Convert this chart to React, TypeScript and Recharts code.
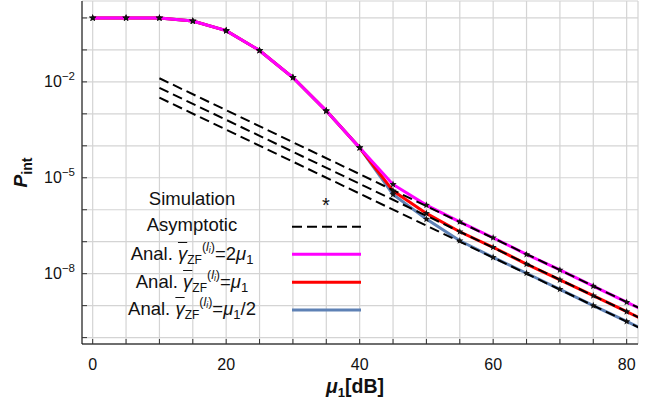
import React from 'react';
import { LineChart, Line, XAxis, YAxis, CartesianGrid, Label } from 'recharts';

const FONT = '"Liberation Sans", Arial, Helvetica, sans-serif';

const snrDb = [0, 5, 10, 15, 20, 25, 30, 35, 40, 45, 50, 55, 60, 65, 70, 75, 80, 85];
// analytic curves, identical up to 40 dB
const analTwoMu = [1.0, 1.0, 1.0, 0.8, 0.4, 9.6e-2, 1.37e-2, 1.24e-3, 8.7e-5, 6.2e-6, 1.4e-6, 4.2e-7, 1.33e-7, 4.0e-8, 1.31e-8, 4.1e-9, 1.28e-9, 4.0e-10];
const analMu = [1.0, 1.0, 1.0, 0.8, 0.4, 9.6e-2, 1.37e-2, 1.24e-3, 8.7e-5, 3.9e-6, 7.7e-7, 2.05e-7, 6.7e-8, 2.0e-8, 6.4e-9, 2.05e-9, 6.5e-10, 2.05e-10];
const analHalfMu = [1.0, 1.0, 1.0, 0.8, 0.4, 9.6e-2, 1.37e-2, 1.24e-3, 8.7e-5, 3.0e-6, 5.1e-7, 1.07e-7, 3.25e-8, 1.03e-8, 3.25e-9, 1.0e-9, 3.2e-10, 1.0e-10];

// simulation markers sit on the analytic curves
const simDb = [0, 5, 10, 15, 20, 25, 30, 35, 40, 45, 50, 55, 60, 65, 70, 75, 80];

const asymDb = [10, 85];
const asymTwoMu = [1.3e-2, 4.1e-10];
const asymMu = [6.5e-3, 2.05e-10];
const asymHalfMu = [3.2e-3, 1.0e-10];

const xTicks = [0, 5, 10, 15, 20, 25, 30, 35, 40, 45, 50, 55, 60, 65, 70, 75, 80];
const xLabelTicks = [0, 20, 40, 60, 80];
const yTicks = [1, 1e-1, 1e-2, 1e-3, 1e-4, 1e-5, 1e-6, 1e-7, 1e-8, 1e-9, 1e-10];
const yLabelExps = [-2, -5, -8];

const MAGENTA = '#ff00ff';
const RED = '#ff0000';
const BLUE = '#5e81b5';

const data = snrDb.map((x, i) => {
  const a = asymDb.indexOf(x);
  const s = simDb.includes(x);
  return {
    x,
    twoMu: analTwoMu[i],
    mu: analMu[i],
    halfMu: analHalfMu[i],
    asymTwoMu: a >= 0 ? asymTwoMu[a] : null,
    asymMu: a >= 0 ? asymMu[a] : null,
    asymHalfMu: a >= 0 ? asymHalfMu[a] : null,
    simTwoMu: s ? analTwoMu[i] : null,
    simMu: s ? analMu[i] : null,
    simHalfMu: s ? analHalfMu[i] : null,
  };
});

const X_DOMAIN: [number, number] = [-1.6, 81.7];
const Y_DOMAIN: [number, number] = [Math.pow(10, -10.2), Math.pow(10, 0.53)];

function starPath(cx: number, cy: number, r: number) {
  let d = '';
  for (let k = 0; k < 10; k++) {
    const rad = k % 2 === 0 ? r : r * 0.42;
    const ang = -Math.PI / 2 + (k * Math.PI) / 5;
    d += (k === 0 ? 'M' : 'L') + (cx + rad * Math.cos(ang)).toFixed(2) + ',' + (cy + rad * Math.sin(ang)).toFixed(2);
  }
  return d + 'Z';
}

const Star = (props: any) => {
  const { cx, cy, index } = props;
  if (cx == null || cy == null || props.value == null) return <g key={index} />;
  return <path key={index} d={starPath(cx, cy, 3.8)} fill="#111" />;
};

const BottomTick = ({ x, y, payload }: any) => (
  <g>
    <line x1={x} y1={y} x2={x} y2={y - 5} stroke="#333" />
    {xLabelTicks.includes(payload.value) && (
      <text x={x} y={y + 26} textAnchor="middle" fontSize={16} fontFamily={FONT} fill="#111">
        {payload.value}
      </text>
    )}
  </g>
);

const TopTick = ({ x, y }: any) => <line x1={x} y1={y} x2={x} y2={y + 5} stroke="#333" />;

const LeftTick = ({ x, y, payload }: any) => {
  const e = Math.round(Math.log10(payload.value));
  return (
    <g>
      <line x1={x} y1={y} x2={x + 5} y2={y} stroke="#333" />
      {yLabelExps.includes(e) && (
        <text x={x - 7} y={y + 5.5} textAnchor="end" fontSize={16} fontFamily={FONT} fill="#111">
          10
          <tspan fontSize={11.5} dy={-7.5}>{'\u2212' + Math.abs(e)}</tspan>
        </text>
      )}
    </g>
  );
};

const RightTick = ({ x, y }: any) => <line x1={x} y1={y} x2={x - 5} y2={y} stroke="#333" />;

const XTitle = ({ viewBox }: any) => {
  const cx = viewBox.x + viewBox.width / 2 - 5;
  return (
    <text x={cx} y={viewBox.y + 49} textAnchor="middle" fontSize={19.5} fontWeight="bold" fontFamily={FONT} fill="#111">
      <tspan fontStyle="italic">μ</tspan>
      <tspan fontSize={13} dy={4}>1</tspan>
      <tspan dy={-4}>[dB]</tspan>
    </text>
  );
};

const YTitle = ({ viewBox }: any) => {
  const x = 27;
  const y = viewBox.y + viewBox.height / 2;
  return (
    <text x={x} y={y} transform={`rotate(-90, ${x}, ${y})`} textAnchor="middle" fontSize={19} fontWeight="bold" fontFamily={FONT} fill="#111">
      <tspan fontStyle="italic">P</tspan>
      <tspan fontSize={14} dy={5}>int</tspan>
    </text>
  );
};

const shifted = (size: number, top: number): React.CSSProperties => ({
  fontSize: size,
  lineHeight: 1,
  position: 'relative',
  top,
});

const Gamma = () => (
  <>
    <span style={{ fontStyle: 'italic', textDecoration: 'overline' }}>γ</span>
    <span style={shifted(12, 4)}>ZF</span>
    <span style={shifted(12.5, -9)}>
      (<i>l</i>
      <i style={shifted(8.5, 2)}>i</i>)
    </span>
  </>
);

const Mu1 = () => (
  <>
    <i>μ</i>
    <span style={shifted(13, 4)}>1</span>
  </>
);

const legendRows = [
  { cy: 199, label: <>Simulation</> },
  { cy: 224.5, label: <>Asymptotic</> },
  { cy: 253.5, label: <>Anal. <Gamma />=2<Mu1 /></> },
  { cy: 281.5, label: <>Anal. <Gamma />=<Mu1 /></> },
  { cy: 308.5, label: <>Anal. <Gamma />=<Mu1 />/2</> },
];

const ChartLegend = () => (
  <div style={{ position: 'absolute', left: 0, top: 0, width: 657, height: 408, pointerEvents: 'none', fontFamily: FONT, color: '#111' }}>
    {legendRows.map((r, i) => (
      <div
        key={i}
        style={{
          position: 'absolute',
          left: 82,
          width: 220,
          top: r.cy - 11,
          height: 22,
          lineHeight: '22px',
          fontSize: 18.5,
          textAlign: 'center',
          whiteSpace: 'nowrap',
        }}
      >
        {r.label}
      </div>
    ))}
    <svg width={657} height={408} style={{ position: 'absolute', left: 0, top: 0 }}>
      <text x={326} y={212} textAnchor="middle" fontSize={20} fontFamily={FONT} fill="#111">*</text>
      <line x1={292} x2={361} y1={226.7} y2={226.7} stroke="#000" strokeWidth={2} strokeDasharray="10 5" />
      <line x1={292} x2={361} y1={254.3} y2={254.3} stroke={MAGENTA} strokeWidth={3} />
      <line x1={292} x2={361} y1={282.3} y2={282.3} stroke={RED} strokeWidth={3} />
      <line x1={292} x2={361} y1={310} y2={310} stroke={BLUE} strokeWidth={3} />
    </svg>
  </div>
);

export default function App() {
  return (
    <div style={{ position: 'relative', width: 657, height: 408, background: '#fff' }}>
      <style>{'body{margin:0}'}</style>
      <LineChart width={657} height={408} data={data} margin={{ top: 1, right: 19, left: 0, bottom: 34 }}>
        <CartesianGrid stroke="#d4d4d4" strokeWidth={1.2} />
        <XAxis
          dataKey="x"
          type="number"
          domain={X_DOMAIN}
          ticks={xTicks}
          interval={0}
          allowDataOverflow
          height={30}
          tickSize={0}
          tickMargin={0}
          tick={<BottomTick />}
          axisLine={{ stroke: '#444', strokeWidth: 1.5 }}
        >
          <Label content={<XTitle />} />
        </XAxis>
        <XAxis
          xAxisId="top"
          orientation="top"
          dataKey="x"
          type="number"
          domain={X_DOMAIN}
          ticks={xTicks}
          interval={0}
          allowDataOverflow
          height={0}
          tickSize={0}
          tickMargin={0}
          tick={<TopTick />}
          axisLine={{ stroke: '#444', strokeWidth: 1.5 }}
        />
        <YAxis
          type="number"
          scale="log"
          domain={Y_DOMAIN}
          ticks={yTicks}
          interval={0}
          allowDataOverflow
          width={82}
          tickSize={0}
          tickMargin={0}
          tick={<LeftTick />}
          axisLine={{ stroke: '#000' }}
        >
          <Label content={<YTitle />} />
        </YAxis>
        <YAxis
          yAxisId="right"
          orientation="right"
          type="number"
          scale="log"
          domain={Y_DOMAIN}
          ticks={yTicks}
          interval={0}
          allowDataOverflow
          width={0}
          tickSize={0}
          tickMargin={0}
          tick={<RightTick />}
          axisLine={{ stroke: '#000' }}
        />

        <Line dataKey="halfMu" stroke={BLUE} strokeWidth={3} dot={false} activeDot={false} isAnimationActive={false} />
        <Line dataKey="mu" stroke={RED} strokeWidth={3} dot={false} activeDot={false} isAnimationActive={false} />
        <Line dataKey="twoMu" stroke={MAGENTA} strokeWidth={3} dot={false} activeDot={false} isAnimationActive={false} />

        <Line dataKey="asymTwoMu" stroke="#000" strokeWidth={2} strokeDasharray="10 5" dot={false} activeDot={false} connectNulls isAnimationActive={false} />
        <Line dataKey="asymMu" stroke="#000" strokeWidth={2} strokeDasharray="10 5" dot={false} activeDot={false} connectNulls isAnimationActive={false} />
        <Line dataKey="asymHalfMu" stroke="#000" strokeWidth={2} strokeDasharray="10 5" dot={false} activeDot={false} connectNulls isAnimationActive={false} />

        <Line dataKey="simHalfMu" stroke="none" dot={<Star />} activeDot={false} isAnimationActive={false} />
        <Line dataKey="simMu" stroke="none" dot={<Star />} activeDot={false} isAnimationActive={false} />
        <Line dataKey="simTwoMu" stroke="none" dot={<Star />} activeDot={false} isAnimationActive={false} />
      </LineChart>
      <ChartLegend />
    </div>
  );
}
